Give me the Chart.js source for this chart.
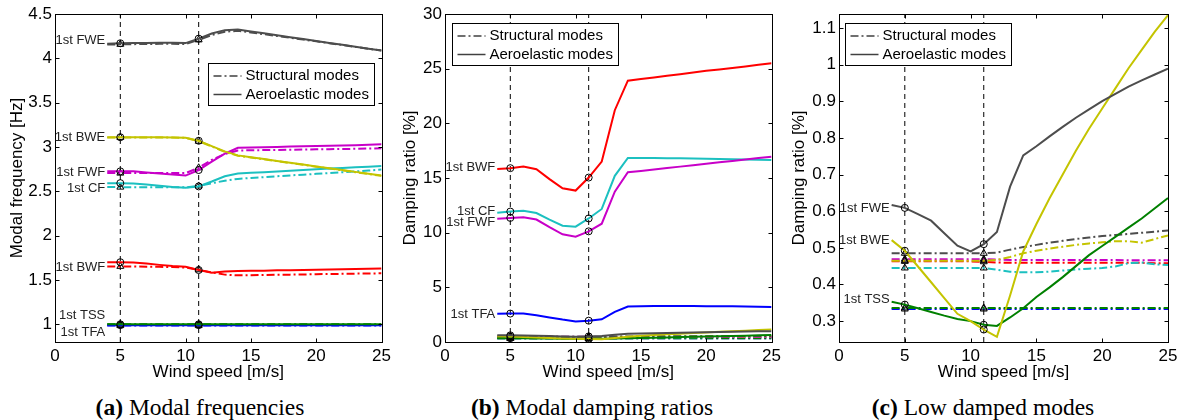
<!DOCTYPE html>
<html>
<head>
<meta charset="utf-8">
<script src="https://cdn.jsdelivr.net/npm/chart.js@4.4.0/dist/chart.umd.min.js"></script>
<style>
  body { margin: 0; background: #fff; width: 1187px; height: 420px; position: relative; overflow: hidden; }
  canvas { position: absolute; top: 0; }
  .cap { position: absolute; top: 393px; width: 320px; text-align: center; font: 23.5px "Liberation Serif", "Times New Roman", serif; line-height: 28px; color: #000; }
</style>
</head>
<body>
<canvas id="chartA" width="395" height="390" style="left:0"></canvas>
<canvas id="chartB" width="395" height="390" style="left:390px"></canvas>
<canvas id="chartC" width="403" height="390" style="left:784px"></canvas>
<div class="cap" style="left:40px"><b>(a)</b> Modal frequencies</div>
<div class="cap" style="left:432px"><b>(b)</b> Modal damping ratios</div>
<div class="cap" style="left:823px"><b>(c)</b> Low damped modes</div>
<script>
// wind speeds [m/s] and the two marked operating points
const windSpeeds = [4, 5, 6, 7, 8, 9, 10, 11, 12, 13, 14, 15, 16, 17, 18, 19, 20, 21, 22, 23, 24, 25];
const markedWinds = [5, 11];
const xTicks = [0, 5, 10, 15, 20, 25];
const freqTicks = [1, 1.5, 2, 2.5, 3, 3.5, 4, 4.5];
const dampTicks = [0, 5, 10, 15, 20, 25, 30];
const lowDampTicks = [0.3, 0.4, 0.5, 0.6, 0.7, 0.8, 0.9, 1, 1.1];

// modal frequencies [Hz]
const freqAeroFWE = [4.165, 4.170, 4.172, 4.174, 4.175, 4.175, 4.172, 4.222, 4.280, 4.318, 4.325, 4.303, 4.282, 4.260, 4.238, 4.217, 4.195, 4.173, 4.152, 4.130, 4.108, 4.087];
const freqStructFWE = [4.155, 4.158, 4.160, 4.162, 4.163, 4.163, 4.160, 4.208, 4.262, 4.300, 4.310, 4.292, 4.272, 4.252, 4.232, 4.212, 4.192, 4.171, 4.150, 4.129, 4.108, 4.087];
const freqAeroBWE = [3.110, 3.110, 3.110, 3.110, 3.110, 3.108, 3.105, 3.070, 3.010, 2.950, 2.905, 2.884, 2.864, 2.843, 2.822, 2.802, 2.781, 2.760, 2.740, 2.719, 2.698, 2.677];
const freqStructBWE = [3.108, 3.108, 3.108, 3.108, 3.108, 3.106, 3.103, 3.065, 3.005, 2.945, 2.902, 2.881, 2.861, 2.840, 2.819, 2.799, 2.778, 2.757, 2.737, 2.716, 2.695, 2.674];
const freqAeroFWF = [2.725, 2.725, 2.725, 2.712, 2.700, 2.690, 2.677, 2.740, 2.835, 2.925, 2.990, 2.995, 2.998, 3.001, 3.004, 3.007, 3.010, 3.013, 3.016, 3.020, 3.025, 3.030];
const freqStructFWF = [2.705, 2.705, 2.705, 2.705, 2.705, 2.705, 2.705, 2.765, 2.855, 2.920, 2.960, 2.963, 2.965, 2.967, 2.969, 2.971, 2.973, 2.975, 2.977, 2.979, 2.982, 2.985];
const freqAeroCF = [2.592, 2.592, 2.588, 2.578, 2.563, 2.548, 2.540, 2.555, 2.610, 2.670, 2.700, 2.708, 2.716, 2.724, 2.732, 2.740, 2.748, 2.756, 2.764, 2.771, 2.778, 2.785];
const freqStructCF = [2.548, 2.547, 2.546, 2.545, 2.545, 2.545, 2.545, 2.560, 2.590, 2.620, 2.640, 2.650, 2.660, 2.670, 2.679, 2.688, 2.697, 2.706, 2.715, 2.724, 2.734, 2.745];
const freqAeroBWF = [1.700, 1.700, 1.698, 1.685, 1.670, 1.657, 1.648, 1.612, 1.582, 1.595, 1.600, 1.603, 1.605, 1.608, 1.610, 1.613, 1.615, 1.618, 1.620, 1.623, 1.625, 1.628];
const freqStructBWF = [1.653, 1.653, 1.652, 1.650, 1.648, 1.645, 1.640, 1.615, 1.585, 1.560, 1.552, 1.554, 1.556, 1.558, 1.560, 1.562, 1.565, 1.567, 1.569, 1.571, 1.573, 1.575];
const freqAeroTSS = [1.000, 1.000, 1.000, 1.000, 1.000, 1.000, 1.000, 1.000, 1.000, 1.000, 1.000, 1.000, 1.000, 1.000, 1.000, 1.000, 1.000, 1.000, 1.000, 1.000, 1.000, 1.000];
const freqStructTSS = [1.000, 1.000, 1.000, 1.000, 1.000, 1.000, 1.000, 1.000, 1.000, 1.000, 1.000, 1.000, 1.000, 1.000, 1.000, 1.000, 1.000, 1.000, 1.000, 1.000, 1.000, 1.000];
const freqAeroTFA = [0.990, 0.990, 0.990, 0.990, 0.990, 0.990, 0.990, 0.990, 0.990, 0.990, 0.990, 0.990, 0.990, 0.990, 0.990, 0.990, 0.990, 0.990, 0.990, 0.990, 0.990, 0.990];
const freqStructTFA = [0.985, 0.985, 0.985, 0.985, 0.985, 0.985, 0.985, 0.985, 0.985, 0.985, 0.985, 0.985, 0.985, 0.985, 0.985, 0.985, 0.985, 0.985, 0.985, 0.985, 0.985, 0.985];

// damping ratios [%]
const dampAeroFWE = [0.617, 0.609, 0.592, 0.574, 0.540, 0.506, 0.490, 0.510, 0.543, 0.667, 0.752, 0.777, 0.804, 0.830, 0.855, 0.878, 0.900, 0.920, 0.940, 0.957, 0.973, 0.989];
const dampStructFWE = [0.485, 0.485, 0.485, 0.485, 0.485, 0.485, 0.485, 0.485, 0.487, 0.495, 0.502, 0.508, 0.514, 0.519, 0.524, 0.528, 0.532, 0.535, 0.538, 0.541, 0.544, 0.547];
const dampAeroBWE = [0.521, 0.492, 0.449, 0.406, 0.363, 0.320, 0.300, 0.277, 0.257, 0.370, 0.490, 0.565, 0.635, 0.700, 0.765, 0.825, 0.880, 0.935, 0.990, 1.040, 1.090, 1.135];
const dampStructBWE = [0.465, 0.465, 0.465, 0.465, 0.465, 0.465, 0.465, 0.465, 0.467, 0.475, 0.485, 0.492, 0.498, 0.503, 0.508, 0.512, 0.515, 0.518, 0.518, 0.514, 0.524, 0.534];
const dampAeroFWF = [11.28, 11.35, 11.40, 11.20, 10.50, 9.85, 9.63, 10.12, 10.82, 13.75, 15.52, 15.65, 15.78, 15.91, 16.04, 16.17, 16.30, 16.43, 16.56, 16.69, 16.82, 16.95];
const dampStructFWF = [0.469, 0.469, 0.469, 0.469, 0.469, 0.469, 0.469, 0.469, 0.468, 0.467, 0.467, 0.467, 0.467, 0.467, 0.467, 0.467, 0.467, 0.467, 0.466, 0.466, 0.466, 0.466];
const dampAeroCF = [11.83, 11.93, 12.00, 11.80, 11.20, 10.64, 10.55, 11.30, 12.17, 15.20, 16.83, 16.83, 16.82, 16.81, 16.80, 16.78, 16.76, 16.74, 16.72, 16.70, 16.68, 16.65];
const dampStructCF = [0.445, 0.445, 0.445, 0.445, 0.445, 0.445, 0.445, 0.445, 0.440, 0.435, 0.433, 0.433, 0.435, 0.438, 0.441, 0.443, 0.445, 0.449, 0.458, 0.460, 0.455, 0.453];
const dampAeroBWF = [15.83, 15.90, 16.04, 15.80, 14.90, 14.06, 13.85, 15.04, 16.50, 21.20, 23.90, 24.05, 24.20, 24.35, 24.50, 24.65, 24.80, 24.93, 25.06, 25.20, 25.35, 25.50];
const dampStructBWF = [0.463, 0.463, 0.463, 0.463, 0.463, 0.463, 0.463, 0.462, 0.460, 0.459, 0.459, 0.459, 0.459, 0.459, 0.459, 0.459, 0.459, 0.459, 0.459, 0.459, 0.458, 0.458];
const dampAeroTSS = [0.353, 0.345, 0.335, 0.325, 0.315, 0.306, 0.300, 0.290, 0.287, 0.310, 0.335, 0.366, 0.392, 0.420, 0.450, 0.480, 0.505, 0.530, 0.555, 0.580, 0.608, 0.636];
const dampStructTSS = [0.336, 0.336, 0.336, 0.336, 0.336, 0.336, 0.336, 0.336, 0.336, 0.336, 0.336, 0.336, 0.336, 0.336, 0.336, 0.336, 0.336, 0.336, 0.336, 0.336, 0.336, 0.336];
const dampAeroTFA = [2.58, 2.60, 2.60, 2.45, 2.25, 2.05, 1.88, 1.95, 2.08, 2.75, 3.25, 3.28, 3.30, 3.30, 3.30, 3.29, 3.28, 3.27, 3.26, 3.24, 3.22, 3.20];
const dampStructTFA = [0.333, 0.333, 0.333, 0.333, 0.333, 0.333, 0.333, 0.333, 0.333, 0.333, 0.333, 0.333, 0.333, 0.333, 0.333, 0.333, 0.333, 0.333, 0.333, 0.333, 0.333, 0.333];

// mode name labels written inside each panel (y in data units)
const labelsA = ['1st FWE', '1st BWE', '1st FWF', '1st CF', '1st BWF', '1st TSS', '1st TFA'];
const labelYA = [4.20, 3.11, 2.714, 2.538, 1.645, 1.10, 0.907];
const labelsB = ['1st BWF', '1st CF', '1st FWF', '1st TFA'];
const labelYB = [15.95, 11.92, 10.9, 2.56];
const labelsC = ['1st FWE', '1st BWE', '1st TSS'];
const labelYC = [0.608, 0.519, 0.359];
const labelWind = 3.85;

const modes = [
    { color: '#4d4d4d', fa: freqAeroFWE, fs: freqStructFWE, da: dampAeroFWE, ds: dampStructFWE },
    { color: '#c4c400', fa: freqAeroBWE, fs: freqStructBWE, da: dampAeroBWE, ds: dampStructBWE },
    { color: '#c800c8', fa: freqAeroFWF, fs: freqStructFWF, da: dampAeroFWF, ds: dampStructFWF },
    { color: '#1cc0c0', fa: freqAeroCF, fs: freqStructCF, da: dampAeroCF, ds: dampStructCF },
    { color: '#ff0000', fa: freqAeroBWF, fs: freqStructBWF, da: dampAeroBWF, ds: dampStructBWF },
    { color: '#008000', fa: freqAeroTSS, fs: freqStructTSS, da: dampAeroTSS, ds: dampStructTSS },
    { color: '#0000ff', fa: freqAeroTFA, fs: freqStructTFA, da: dampAeroTFA, ds: dampStructTFA }
];

const FONT = '"Liberation Sans", Arial, Helvetica, sans-serif';
const DASHDOT = [8, 3, 2, 3];

function toPoints(arr) {
    return windSpeeds.map((w, i) => ({ x: w, y: arr[i] }));
}

function curve(arr, color, structural) {
    return {
        data: toPoints(arr),
        borderColor: color,
        borderWidth: 2,
        borderDash: structural ? DASHDOT : [],
        order: structural ? 2 : 1,
        pointStyle: structural ? 'triangle' : 'circle',
        pointRadius: c => (c.raw && markedWinds.includes(c.raw.x)) ? (structural ? 4 : 3.5) : 0,
        pointBorderColor: '#000',
        pointBackgroundColor: 'rgba(0,0,0,0)',
        pointBorderWidth: 1,
        tension: 0
    };
}

function vline(w, lo, hi) {
    return {
        data: [{ x: w, y: lo }, { x: w, y: hi }],
        borderColor: '#000', borderWidth: 1, borderDash: [5, 4],
        pointRadius: 0, order: 3
    };
}

// box + inward ticks like the original axes
const framePlugin = {
    id: 'frame',
    afterDatasetsDraw(chart) {
        const { ctx, chartArea: a, scales: { x, y } } = chart;
        ctx.save();
        ctx.strokeStyle = '#000';
        ctx.lineWidth = 1;
        ctx.setLineDash([]);
        const L = Math.round(a.left) + 0.5, T = Math.round(a.top) + 0.5;
        const R = Math.round(a.right) + 0.5, B = Math.round(a.bottom) + 0.5;
        ctx.strokeRect(L, T, R - L, B - T);
        ctx.beginPath();
        x.ticks.forEach(t => {
            const px = Math.round(x.getPixelForValue(t.value)) + 0.5;
            ctx.moveTo(px, B); ctx.lineTo(px, B - 4);
            ctx.moveTo(px, T); ctx.lineTo(px, T + 4);
        });
        y.ticks.forEach(t => {
            const py = Math.round(y.getPixelForValue(t.value)) + 0.5;
            ctx.moveTo(L, py); ctx.lineTo(L + 4, py);
            ctx.moveTo(R, py); ctx.lineTo(R - 4, py);
        });
        ctx.stroke();
        ctx.restore();
    }
};

function labelPlugin(names, ys) {
    return {
        id: 'modeLabels',
        afterDatasetsDraw(chart) {
            const { ctx, scales: { x, y } } = chart;
            ctx.save();
            ctx.font = '13px ' + FONT;
            ctx.fillStyle = '#222';
            ctx.textAlign = 'right';
            ctx.textBaseline = 'middle';
            names.forEach((n, i) => ctx.fillText(n, x.getPixelForValue(labelWind), y.getPixelForValue(ys[i])));
            ctx.restore();
        }
    };
}

function legendPlugin(dx, dy, w, h) {
    return {
        id: 'boxLegend',
        afterDraw(chart) {
            const { ctx, chartArea: a } = chart;
            const x0 = Math.round(a.left + dx) + 0.5, y0 = Math.round(a.top + dy) + 0.5;
            ctx.save();
            ctx.fillStyle = '#fff';
            ctx.fillRect(x0, y0, w, h);
            ctx.strokeStyle = '#000';
            ctx.lineWidth = 1;
            ctx.strokeRect(x0, y0, w, h);
            [['Structural modes', DASHDOT], ['Aeroelastic modes', []]].forEach((e, i) => {
                const yy = y0 + 12.5 + i * 18.5;
                ctx.strokeStyle = '#404040';
                ctx.lineWidth = 1.5;
                ctx.setLineDash(e[1]);
                ctx.beginPath();
                ctx.moveTo(x0 + 5, yy); ctx.lineTo(x0 + 33, yy);
                ctx.stroke();
                ctx.setLineDash([]);
                ctx.fillStyle = '#000';
                ctx.font = '15px ' + FONT;
                ctx.textAlign = 'left';
                ctx.textBaseline = 'middle';
                ctx.fillText(e[0], x0 + 37, yy);
            });
            ctx.restore();
        }
    };
}

function makeChart(id, cfg) {
    const datasets = [];
    modes.forEach(m => datasets.push(curve(cfg.aero(m), m.color, false)));
    modes.forEach(m => datasets.push(curve(cfg.struct(m), m.color, true)));
    markedWinds.forEach(w => datasets.push(vline(w, cfg.min, cfg.max)));
    const canvas = document.getElementById(id);
    return new Chart(canvas, {
        type: 'line',
        data: { datasets },
        options: {
            responsive: false,
            animation: false,
            devicePixelRatio: 1,
            layout: { padding: { left: 0, top: 14, right: canvas.width - 55 - 329, bottom: 0 } },
            plugins: { legend: { display: false }, tooltip: { enabled: false } },
            scales: {
                x: {
                    type: 'linear', min: 0, max: 25,
                    afterBuildTicks: s => { s.ticks = xTicks.map(v => ({ value: v })); },
                    afterFit: s => { s.height = 48; },
                    grid: { display: false, drawTicks: false },
                    border: { display: false },
                    ticks: { font: { family: FONT, size: 17 }, color: '#000', padding: 4, maxRotation: 0 },
                    title: { display: true, text: 'Wind speed [m/s]', font: { family: FONT, size: 17 }, color: '#000', padding: { top: 0, bottom: 7 } }
                },
                y: {
                    type: 'linear', min: cfg.min, max: cfg.max,
                    afterBuildTicks: s => { s.ticks = cfg.ticks.map(v => ({ value: v })); },
                    afterFit: s => { s.width = 55; },
                    grid: { display: false, drawTicks: false },
                    border: { display: false },
                    ticks: { font: { family: FONT, size: 17 }, color: '#000', padding: 3, callback: v => String(+v.toFixed(2)) },
                    title: { display: true, text: cfg.yTitle, font: { family: FONT, size: 17 }, color: '#000', padding: { top: cfg.titlePad, bottom: 0 } }
                }
            }
        },
        plugins: [framePlugin, labelPlugin(cfg.labels, cfg.labelY), legendPlugin(cfg.legend[0], cfg.legend[1], 166, 42)]
    });
}

makeChart('chartA', {
    aero: m => m.fa, struct: m => m.fs, min: 0.8, max: 4.5, ticks: freqTicks,
    yTitle: 'Modal frequency [Hz]', titlePad: 7, labels: labelsA, labelY: labelYA, legend: [153, 49]
});
makeChart('chartB', {
    aero: m => m.da, struct: m => m.ds, min: 0, max: 30, ticks: dampTicks,
    yTitle: 'Damping ratio [%]', titlePad: 10, labels: labelsB, labelY: labelYB, legend: [7, 9]
});
makeChart('chartC', {
    aero: m => m.da, struct: m => m.ds, min: 0.243, max: 1.138, ticks: lowDampTicks,
    yTitle: 'Damping ratio [%]', titlePad: 5, labels: labelsC, labelY: labelYC, legend: [6, 9]
});
</script>
</body>
</html>
